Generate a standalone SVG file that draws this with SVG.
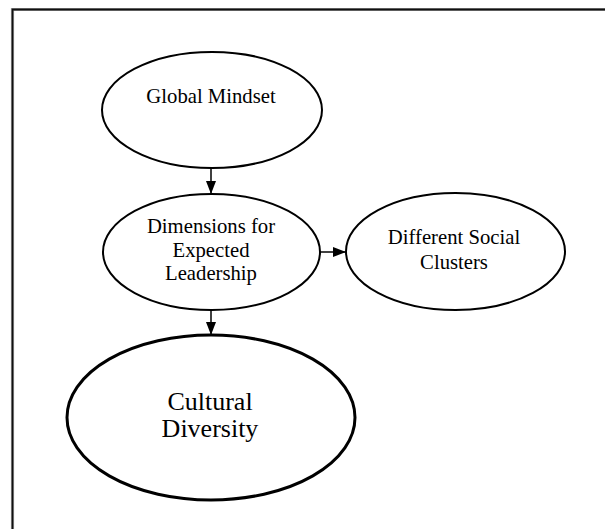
<svg xmlns="http://www.w3.org/2000/svg" width="605" height="529" viewBox="0 0 605 529">
  <defs>
    <marker id="arrow" markerWidth="13" markerHeight="10" refX="13" refY="5" orient="auto" markerUnits="userSpaceOnUse">
      <path d="M0,0 L13,5 L0,10 Z" fill="#000"/>
    </marker>
    <style>
      .node ellipse { fill: #fff; stroke: #000; stroke-width: 2; }
      .node.major ellipse { stroke-width: 3; }
      .node text { font-family: "Liberation Serif", "Times New Roman", serif; font-size: 20.7px; fill: #000; text-anchor: middle; }
      .node.major text { font-size: 26px; }
      .edge { stroke: #000; stroke-width: 1.5; fill: none; marker-end: url(#arrow); }
    </style>
  </defs>

  <rect width="605" height="529" fill="#fff"/>

  <!-- frame running off the right and bottom edges -->
  <path d="M12.5,540 V9.5 H620" fill="none" stroke="#aaa" stroke-width="3.2"/>
  <path d="M12.5,540 V9.5 H620" fill="none" stroke="#111" stroke-width="1.8"/>

  <g id="connectors">
    <line class="edge" x1="211" y1="168" x2="211" y2="194"/>
    <line class="edge" x1="320" y1="252" x2="346" y2="252"/>
    <line class="edge" x1="211" y1="310" x2="211" y2="335"/>
  </g>

  <g id="global-mindset" class="node">
    <ellipse cx="212" cy="110" rx="110" ry="58"/>
    <text x="211" y="103">Global Mindset</text>
  </g>

  <g id="dimensions-expected-leadership" class="node">
    <ellipse cx="211.5" cy="252" rx="108.5" ry="58"/>
    <text x="211" y="233">Dimensions for</text>
    <text x="211" y="256.5">Expected</text>
    <text x="211" y="280">Leadership</text>
  </g>

  <g id="different-social-clusters" class="node">
    <ellipse cx="455.5" cy="251.5" rx="109.5" ry="58.5"/>
    <text x="454" y="244">Different Social</text>
    <text x="454" y="269">Clusters</text>
  </g>

  <g id="cultural-diversity" class="node major">
    <ellipse cx="211" cy="417.5" rx="144" ry="82.5"/>
    <text x="210" y="410">Cultural</text>
    <text x="210" y="437">Diversity</text>
  </g>
</svg>
